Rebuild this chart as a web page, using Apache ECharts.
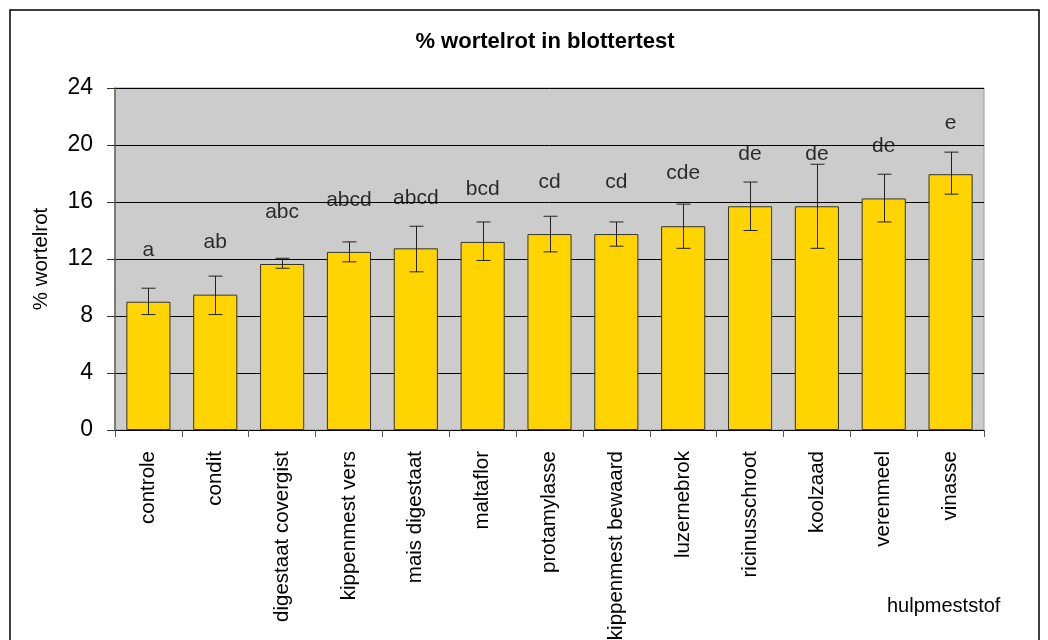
<!DOCTYPE html>
<html>
<head>
<meta charset="utf-8">
<script src="https://cdn.jsdelivr.net/npm/echarts@6/dist/echarts.min.js"></script>
<style>html,body{margin:0;padding:0;background:#fff}#c{width:1048px;height:640px}</style>
</head>
<body>
<div id="c"></div>
<script>
const categories = ["controle","condit","digestaat covergist","kippenmest vers","mais digestaat","maltaflor","protamylasse","kippenmest bewaard","luzernebrok","ricinusschroot","koolzaad","verenmeel","vinasse"];
const values   = [9.0, 9.5, 11.65, 12.5, 12.75, 13.2, 13.75, 13.75, 14.3, 15.7, 15.7, 16.25, 17.95];
const errLow   = [8.1, 8.1, 11.35, 11.8, 11.1, 11.9, 12.5, 12.9, 12.75, 14.0, 12.75, 14.6, 16.55];
const errHigh  = [9.95, 10.8, 12.05, 13.2, 14.3, 14.6, 15.0, 14.6, 15.85, 17.4, 18.65, 17.95, 19.5];
const letters  = ["a","ab","abc","abcd","abcd","bcd","cd","cd","cde","de","de","de","e"];
const letterY  = [12.6, 13.2, 15.3, 16.1, 16.3, 16.9, 17.4, 17.4, 18.0, 19.35, 19.35, 19.9, 21.5];
const yTicks   = [0, 4, 8, 12, 16, 20, 24];

const SANS = '"Liberation Sans", Arial, sans-serif';

const chart = echarts.init(document.getElementById('c'), null, {renderer: 'canvas'});
chart.setOption({
  animation: false,
  backgroundColor: '#ffffff',
  title: {
    text: '% wortelrot in blottertest',
    left: 540, top: 26, textAlign: 'center',
    textStyle: {fontFamily: SANS, fontWeight: 'bold', fontSize: 22, color: '#000'}
  },
  graphic: [
    {type: 'rect', shape: {x: 10, y: 10, width: 1029, height: 700}, style: {fill: null, stroke: '#000', lineWidth: 1.5}, silent: true, z: 100},
    {type: 'text', left: 887, top: 596, style: {text: 'hulpmeststof', fontFamily: SANS, fontSize: 20, fill: '#000'}}
  ],
  grid: {left: 115, right: 64, top: 88, bottom: 210, containLabel: false, outerBoundsMode: 'none',
    show: true, backgroundColor: '#cccccc', borderColor: '#999', borderWidth: 1},
  xAxis: {
    type: 'category', data: categories, boundaryGap: true,
    axisLine: {lineStyle: {color: '#000', width: 1}},
    axisTick: {show: true, alignWithLabel: false, length: 7, lineStyle: {color: '#555'}},
    axisLabel: {rotate: 90, interval: 0, margin: 21, fontFamily: SANS, fontSize: 20.5, color: '#000'}
  },
  yAxis: {
    type: 'value', min: 0, max: 24, interval: 4,
    name: '% wortelrot', nameLocation: 'middle', nameGap: 63,
    nameTextStyle: {fontFamily: SANS, fontSize: 20.5, color: '#000'},
    axisLine: {show: true, lineStyle: {color: '#666655', width: 1.5}},
    axisTick: {show: true, length: 8, lineStyle: {color: '#333'}},
    axisLabel: {margin: 22, fontFamily: SANS, fontSize: 23, color: '#000',
      formatter: v => yTicks.includes(v) ? String(v) : ''},
    splitLine: {show: true, lineStyle: {color: '#000', width: 1}}
  },
  series: [
    {
      type: 'bar', data: values, barWidth: '66%',
      itemStyle: {color: '#FFD400', borderColor: '#333', borderWidth: 1},
      z: 2
    },
    {
      type: 'custom', z: 5,
      data: categories.map((c, i) => [i, errLow[i], errHigh[i]]),
      renderItem: function (params, api) {
        const lo = api.coord([api.value(0), api.value(1)]);
        const hi = api.coord([api.value(0), api.value(2)]);
        const x = Math.round(lo[0]) + 0.5;
        const w = 7;
        const st = {stroke: '#222', lineWidth: 1};
        return {type: 'group', children: [
          {type: 'line', shape: {x1: x, y1: hi[1], x2: x, y2: lo[1]}, style: st},
          {type: 'line', shape: {x1: x - w, y1: hi[1], x2: x + w, y2: hi[1]}, style: st},
          {type: 'line', shape: {x1: x - w, y1: lo[1], x2: x + w, y2: lo[1]}, style: st}
        ]};
      }
    },
    {
      type: 'scatter', symbolSize: 0, z: 6,
      data: letterY.map((v, i) => [i, v]),
      label: {show: true, position: 'inside', formatter: p => letters[p.dataIndex],
        fontFamily: SANS, fontSize: 21, color: '#000'}
    }
  ]
});
</script>
</body>
</html>
